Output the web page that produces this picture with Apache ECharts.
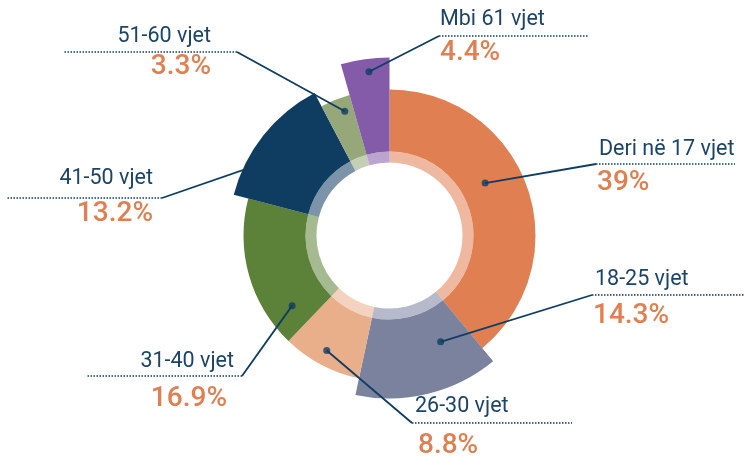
<!DOCTYPE html>
<html><head><meta charset="utf-8">
<script src="https://cdn.jsdelivr.net/npm/echarts@6/dist/echarts.min.js"></script>
<style>html,body{margin:0;padding:0;background:#fff}#c{width:745px;height:458px}</style>
</head><body><div id="c"></div>
<script>
// ---- data ----
const categories = ['Deri në 17 vjet', '18-25 vjet', '26-30 vjet', '31-40 vjet', '41-50 vjet', '51-60 vjet', 'Mbi 61 vjet'];
const shares = [39, 14.3, 8.8, 16.9, 13.2, 3.3, 4.4];

// ---- styles / layout ----
const sliceColors = ['#E08052', '#7A829E', '#E9AE8A', '#5C8139', '#0F3D62', '#96A77A', '#845BA8'];
const outerRadius = [146, 163, 146, 146, 161, 146, 178];
const CX = 389.5, CY = 235.5;
const dotRadius = [109, 118, 131, 120, 130, 132, 165];
const dotShift = [-9, -12, 0.7, -20, 0, 2, 0.8];
const elbow = [[596, 164], [592, 295], [412, 423], [242, 376], [162, 198], [237, 52], [439, 36]];
const lineEnd = [735, 745, 572, 86, 7, 63, 589];
const namePos = [[599, 149.5], [595, 279.5], [415, 407], [234, 362], [153, 178.5], [211, 36.5], [440, 19.5]];
const pctPos = [[597, 182.5], [593, 315.5], [418, 445.5], [227, 399], [153, 213.5], [211, 67], [440, 52.5]];
const NAVY = '#0F3D62';

const total = shares.reduce((a, b) => a + b, 0);
const midAngle = [];
let acc = 0;
shares.forEach(v => { midAngle.push((acc + v / 2) / total * 360); acc += v; });
const dotAngle = midAngle.map((a, i) => a + dotShift[i]);
const dotXY = dotAngle.map((a, i) => {
  const t = a * Math.PI / 180;
  return [CX + dotRadius[i] * Math.sin(t), CY - dotRadius[i] * Math.cos(t)];
});
const isLeft = i => elbow[i][0] < CX;

const baseData = () => categories.map((n, i) => ({ name: n, value: shares[i] }));

const sliceSeries = categories.map((c, k) => ({
  type: 'pie', center: [CX, CY], radius: [84, outerRadius[k]], startAngle: 90, clockwise: true,
  silent: true, label: { show: false }, labelLine: { show: false }, emphasis: { disabled: true }, z: 1,
  data: categories.map((n, i) => ({ name: n, value: shares[i],
    itemStyle: { color: i === k ? sliceColors[i] : 'rgba(0,0,0,0)' } }))
}));

const bandSeries = {
  type: 'pie', center: [CX, CY], radius: [73, 84], startAngle: 90, clockwise: true,
  silent: true, label: { show: false }, labelLine: { show: false }, emphasis: { disabled: true }, z: 1,
  data: categories.map((n, i) => ({ name: n, value: shares[i], itemStyle: { color: sliceColors[i], opacity: 0.55 } }))
};

const pctSeries = {
  type: 'pie', center: [CX, CY], radius: [0, 20], startAngle: 90, clockwise: true,
  silent: true, avoidLabelOverlap: false, emphasis: { disabled: true }, z: 3,
  itemStyle: { color: 'rgba(0,0,0,0)' },
  data: baseData(),
  label: { show: true, position: 'outside', formatter: p => shares[p.dataIndex] + '%',
    color: '#E08052', fontFamily: 'Roboto', fontSize: 28, fontWeight: 500 },
  labelLine: { show: true, length: 5, length2: 5, smooth: false, lineStyle: { color: NAVY, width: 1.8 } },
  labelLayout: p => {
    const i = p.dataIndex;
    return { x: pctPos[i][0], y: pctPos[i][1], align: isLeft(i) ? 'right' : 'left', verticalAlign: 'middle',
      labelLinePoints: [dotXY[i], elbow[i], elbow[i]] };
  }
};

const nameSeries = {
  type: 'pie', center: [CX, CY], radius: [0, 20], startAngle: 90, clockwise: true,
  silent: true, avoidLabelOverlap: false, emphasis: { disabled: true }, z: 3,
  itemStyle: { color: 'rgba(0,0,0,0)' },
  data: baseData(),
  label: { show: true, position: 'outside', formatter: p => p.name,
    color: '#1B4468', fontFamily: 'Roboto', fontSize: 21.5, fontWeight: 400 },
  labelLine: { show: true, length: 5, length2: 5, smooth: false, lineStyle: { color: NAVY, width: 1.5, type: [1.5, 1.5] } },
  labelLayout: p => {
    const i = p.dataIndex;
    const e = elbow[i], end = [lineEnd[i], e[1]];
    return { x: namePos[i][0], y: namePos[i][1], align: isLeft(i) ? 'right' : 'left', verticalAlign: 'middle',
      labelLinePoints: [e, [(e[0] + end[0]) / 2, e[1]], end] };
  }
};

const dotSeries = {
  type: 'scatter', coordinateSystem: 'polar', symbol: 'circle', symbolSize: 7, silent: true, z: 5,
  itemStyle: { color: NAVY }, data: dotAngle.map((a, i) => [dotRadius[i], a])
};

const chart = echarts.init(document.getElementById('c'), null, { renderer: 'canvas' });
chart.setOption({
  animation: false,
  backgroundColor: '#fff',
  polar: { center: [CX, CY], radius: [0, 200] },
  angleAxis: { type: 'value', min: 0, max: 360, startAngle: 90, clockwise: true,
    axisLine: { show: false }, axisTick: { show: false }, axisLabel: { show: false }, splitLine: { show: false } },
  radiusAxis: { type: 'value', min: 0, max: 200,
    axisLine: { show: false }, axisTick: { show: false }, axisLabel: { show: false }, splitLine: { show: false } },
  series: [...sliceSeries, bandSeries, nameSeries, pctSeries, dotSeries]
});
</script></body></html>
